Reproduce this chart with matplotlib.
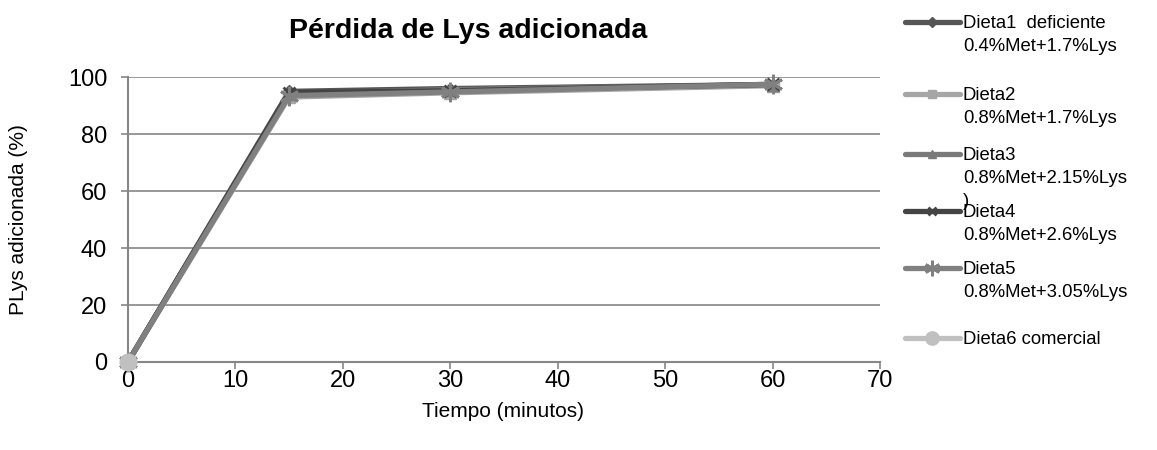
import matplotlib
matplotlib.use("Agg")
import matplotlib.pyplot as plt
import numpy as np
from matplotlib.lines import Line2D

plt.rcParams["font.family"] = ["Liberation Sans", "DejaVu Sans"]

tiempo = [0, 15, 30, 60]

dieta1 = [0, 95.0, 96.0, 97.4]
dieta2 = [0, 93.0, 94.5, 97.0]
dieta3 = [0, 94.2, 95.6, 97.3]
dieta4 = [0, 94.6, 95.2, 97.5]
dieta5 = [0, 93.5, 94.8, 97.5]
dieta6 = [0, np.nan, np.nan, np.nan]

series_labels = [
    "Dieta1  deficiente\n0.4%Met+1.7%Lys",
    "Dieta2\n0.8%Met+1.7%Lys",
    "Dieta3\n0.8%Met+2.15%Lys\n)",
    "Dieta4\n0.8%Met+2.6%Lys",
    "Dieta5\n0.8%Met+3.05%Lys",
    "Dieta6 comercial",
]

x_ticks = [0, 10, 20, 30, 40, 50, 60, 70]
y_ticks = [0, 20, 40, 60, 80, 100]

styles = [
    dict(color="#555555", marker="D", ms=6),
    dict(color="#a6a6a6", marker="s", ms=8),
    dict(color="#7a7a7a", marker="^", ms=8),
    dict(color="#444444", marker="x", ms=8, mew=2),
    dict(color="#808080", marker=(6, 2, 0), ms=14, mew=2),
    dict(color="#c0c0c0", marker="o", ms=12),
]

fig = plt.figure(figsize=(11.57, 4.5), dpi=100)
ax = fig.add_axes([0.1106, 0.1956, 0.65, 0.633])

all_series = [dieta1, dieta2, dieta3, dieta4, dieta5, dieta6]
for vals, st in zip(all_series, styles):
    ax.plot(tiempo, vals, lw=3.8, solid_capstyle="round", zorder=3,
            clip_on=False, **st)

ax.set_xlim(0, 70)
ax.set_ylim(0, 100)
ax.set_xticks(x_ticks)
ax.set_yticks(y_ticks)
ax.tick_params(labelsize=17, length=5, width=1.2, color="#868686")
ax.tick_params(axis="x", pad=0.5)
ax.tick_params(axis="y", pad=10)
ax.grid(axis="y", color="#868686", lw=1.2, zorder=0)
for side in ["top", "right"]:
    ax.spines[side].set_visible(False)
for side in ["left", "bottom"]:
    ax.spines[side].set_color("#868686")
    ax.spines[side].set_linewidth(1.5)

ax.set_xlabel("Tiempo (minutos)", fontsize=15)
ax.set_ylabel("PLys adicionada (%)", fontsize=15)
ax.xaxis.set_label_coords(0.4987, -0.14)
ax.yaxis.set_label_coords(-0.133, 0.5)
fig.text(468 / 1157, 1 - 31 / 450, "Pérdida de Lys adicionada", ha="center", va="center",
         fontsize=20.5, fontweight="bold")

# legend drawn by hand on the right
legend_y = [22, 94, 154, 211, 268, 338]
for lbl, st, yp in zip(series_labels, styles, legend_y):
    yf = 1 - yp / 450
    fig.add_artist(Line2D([905 / 1157, 960 / 1157], [yf, yf], transform=fig.transFigure,
                          color=st["color"], lw=3.8, solid_capstyle="round"))
    fig.add_artist(Line2D([932 / 1157], [yf], transform=fig.transFigure,
                          color=st["color"], marker=st["marker"],
                          ms=st["ms"] * 0.8, mew=st.get("mew", 1)))
    fig.text(963 / 1157, yf + 0.015, lbl, ha="left", va="top", fontsize=13.3,
             linespacing=1.45)

fig.savefig("out.png", dpi=100)
